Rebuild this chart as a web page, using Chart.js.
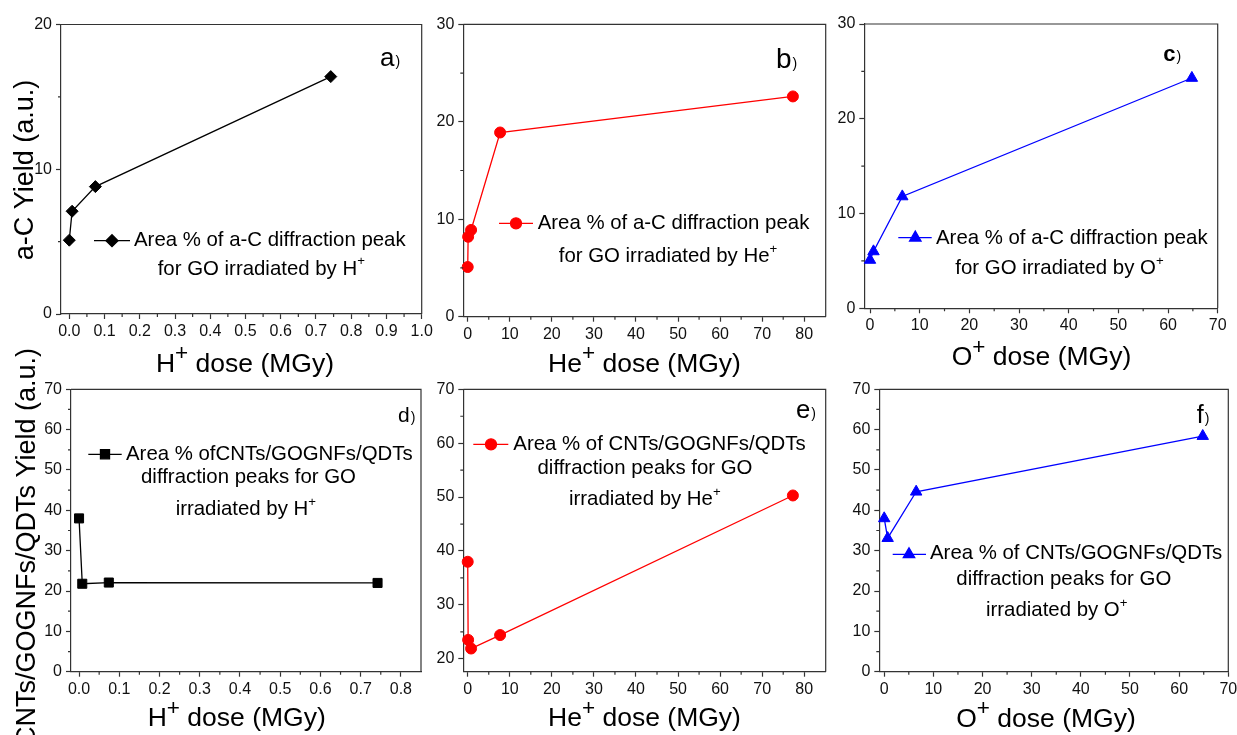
<!DOCTYPE html>
<html>
<head>
<meta charset="utf-8">
<script src="https://cdn.jsdelivr.net/npm/chart.js@4/dist/chart.umd.min.js"></script>
<style>
  html, body { margin: 0; padding: 0; background: #fff; }
  #wrap { position: relative; width: 1237px; height: 735px; overflow: hidden; background: #fff; }
  #wrap canvas { position: absolute; left: 0; top: 0; }
</style>
</head>
<body>
<div id="wrap">
  <canvas id="pa" width="1237" height="735"></canvas>
  <canvas id="pb" width="1237" height="735"></canvas>
  <canvas id="pc" width="1237" height="735"></canvas>
  <canvas id="pd" width="1237" height="735"></canvas>
  <canvas id="pe" width="1237" height="735"></canvas>
  <canvas id="pf" width="1237" height="735"></canvas>
</div>
<script>
// ---- absorbed dose (MGy) for each ion ----
const doseH  = [0, 0.008, 0.074, 0.742];
const doseHe = [0, 0.1, 0.8, 7.7, 77.3];
const doseO  = [0, 0.7, 6.5, 64.8];

// ---- area % of the a-C diffraction peak ----
const acYieldH  = [5.1, 7.1, 8.8, 16.4];
const acYieldHe = [5.1, 8.2, 8.9, 18.9, 22.6];
const acYieldO  = [5.1, 6.0, 11.8, 24.3];

// ---- area % of the CNTs/GOGNFs/QDTs diffraction peaks ----
const cntYieldH  = [38.0, 21.8, 22.1, 22.0];
const cntYieldHe = [38.0, 23.5, 21.9, 24.4, 50.3];
const cntYieldO  = [38.0, 33.1, 44.6, 58.4];

// ---- tick values ----
const ticksDoseH1  = [0, 0.1, 0.2, 0.3, 0.4, 0.5, 0.6, 0.7, 0.8, 0.9, 1.0];
const ticksDoseH08 = [0, 0.1, 0.2, 0.3, 0.4, 0.5, 0.6, 0.7, 0.8];
const ticksDoseHe  = [0, 10, 20, 30, 40, 50, 60, 70, 80];
const ticksDoseO   = [0, 10, 20, 30, 40, 50, 60, 70];
const ticksY20     = [0, 10, 20];
const ticksY30     = [0, 10, 20, 30];
const ticksY70     = [0, 10, 20, 30, 40, 50, 60, 70];
const ticksY20to70 = [20, 30, 40, 50, 60, 70];

const FONT = "'Liberation Sans', Arial, Helvetica, sans-serif";
const AXIS = '#333';
const W = 1237, H = 735;
const YW = 60, XH = 40;   // fixed widths of the y and x scale boxes

// split "H^+ dose" into normal / superscript runs
function richParts(str) {
  const parts = [];
  let buf = '';
  for (let i = 0; i < str.length; i++) {
    if (str[i] === '^') {
      if (buf) parts.push({ t: buf });
      buf = '';
      parts.push({ t: str[i + 1], sup: true });
      i++;
    } else buf += str[i];
  }
  if (buf) parts.push({ t: buf });
  return parts;
}

function drawRich(ctx, str, x, y, size, opt) {
  opt = opt || {};
  const parts = richParts(str);
  const supScale = opt.supScale || 0.7, rise = opt.rise || 0.42;
  const fontOf = s => `${opt.weight || 'normal'} ${s}px ${FONT}`;
  let w = 0;
  parts.forEach(p => {
    ctx.font = fontOf(p.sup ? size * supScale : size);
    p.w = ctx.measureText(p.t).width;
    w += p.w;
  });
  ctx.save();
  ctx.translate(x, y);
  if (opt.rot) ctx.rotate(opt.rot);
  let cx = opt.align === 'center' ? -w / 2 : (opt.align === 'right' ? -w : 0);
  ctx.textBaseline = 'alphabetic';
  ctx.textAlign = 'left';
  ctx.fillStyle = opt.color || '#000';
  parts.forEach(p => {
    ctx.font = fontOf(p.sup ? size * supScale : size);
    ctx.fillText(p.t, cx, p.sup ? -size * rise : 0);
    cx += p.w;
  });
  ctx.restore();
}

// frame, minor ticks, legend, panel letter and axis titles
const decoPlugin = {
  id: 'deco',
  afterDraw(chart, args, o) {
    const ctx = chart.ctx, ca = chart.chartArea;
    const xs = chart.scales.x, ys = chart.scales.y;
    ctx.save();
    ctx.strokeStyle = AXIS;
    ctx.lineWidth = 1.2;
    ctx.beginPath();
    ctx.moveTo(ca.left, ca.top);
    ctx.lineTo(ca.right, ca.top);
    ctx.lineTo(ca.right, ca.bottom);
    ctx.stroke();

    // minor ticks halfway between the labelled ones
    ctx.beginPath();
    const xt = xs.ticks.map(t => t.value), yt = ys.ticks.map(t => t.value);
    for (let i = 0; i < xt.length - 1; i++) {
      const px = xs.getPixelForValue((xt[i] + xt[i + 1]) / 2);
      ctx.moveTo(px, ca.bottom); ctx.lineTo(px, ca.bottom + 3);
    }
    for (let i = 0; i < yt.length - 1; i++) {
      const py = ys.getPixelForValue((yt[i] + yt[i + 1]) / 2);
      ctx.moveTo(ca.left - 3, py); ctx.lineTo(ca.left, py);
    }
    ctx.stroke();

    // legend entry
    const ds = chart.data.datasets[0];
    const lg = o.legend;
    ctx.strokeStyle = ds.borderColor;
    ctx.lineWidth = ds.borderWidth;
    ctx.beginPath();
    ctx.moveTo(lg.x1, lg.y); ctx.lineTo(lg.x2, lg.y);
    ctx.stroke();
    ctx.fillStyle = ds.backgroundColor;
    ctx.strokeStyle = ds.borderColor;
    Chart.helpers.drawPoint(ctx, {
      pointStyle: ds.pointStyle, radius: ds.pointRadius, rotation: 0, borderWidth: ds.pointBorderWidth
    }, lg.mx, lg.y);
    lg.lines.forEach(l => drawRich(ctx, l.t, l.x, l.y, 20.4, { align: l.align, supScale: 0.65, rise: 0.45 }));

    // panel letter
    const lb = o.label;
    ctx.fillStyle = '#000';
    ctx.textBaseline = 'alphabetic';
    ctx.textAlign = 'left';
    ctx.font = `${lb.bold ? 'bold ' : ''}${lb.size}px ${FONT}`;
    ctx.fillText(lb.t, lb.x, lb.y);
    const lw = ctx.measureText(lb.t).width;
    ctx.font = `14px ${FONT}`;
    ctx.fillText(')', lb.x + lw + 1, lb.y);

    // axis titles
    drawRich(ctx, o.xTitle.t, o.xTitle.x, o.xTitle.y, 26.5, { align: 'center', supScale: 0.85, rise: 0.42 });
    if (o.yTitle) {
      drawRich(ctx, o.yTitle.t, o.yTitle.x, o.yTitle.y, 27, { align: 'center', rot: -Math.PI / 2 });
    }
    ctx.restore();
  }
};

function scaleOpts(min, max, tickVals, decimals, horizontal) {
  return {
    type: 'linear',
    min: min,
    max: max,
    afterBuildTicks: s => { s.ticks = tickVals.map(v => ({ value: v })); },
    afterFit: s => {
      if (horizontal) { s.height = XH; s.paddingLeft = 0; s.paddingRight = 0; }
      else { s.width = YW; s.paddingTop = 0; s.paddingBottom = 0; }
    },
    ticks: {
      autoSkip: false,
      maxRotation: 0,
      padding: horizontal ? 3 : 4,
      color: '#111',
      font: { family: FONT, size: 16 },
      callback: v => Number(v).toFixed(decimals)
    },
    grid: { drawOnChartArea: false, drawTicks: true, tickLength: 5, tickColor: AXIS, tickWidth: 1.2 },
    border: { display: true, color: AXIS, width: 1.2 }
  };
}

function makePanel(id, p) {
  new Chart(document.getElementById(id), {
    type: 'scatter',
    data: {
      datasets: [{
        label: p.name,
        data: p.xs.map((x, i) => ({ x: x, y: p.ys[i] })),
        showLine: true,
        borderColor: p.color,
        backgroundColor: p.color,
        borderWidth: 1.3,
        pointStyle: p.pointStyle,
        pointRadius: p.radius,
        pointBorderWidth: 1,
        clip: false
      }]
    },
    options: {
      responsive: false,
      animation: false,
      events: [],
      layout: { padding: { left: p.area.l - YW, top: p.area.t, right: W - p.area.r, bottom: H - p.area.b - XH } },
      plugins: {
        legend: { display: false },
        tooltip: { enabled: false },
        deco: { legend: p.legend, label: p.label, xTitle: p.xTitle, yTitle: p.yTitle }
      },
      scales: {
        x: scaleOpts(p.xRange[0], p.xRange[1], p.xTicks, p.xDec, true),
        y: scaleOpts(p.yRange[0], p.yRange[1], p.yTicks, 0, false)
      }
    },
    plugins: [decoPlugin]
  });
}

// a) a-C yield, H+
makePanel('pa', {
  name: 'Area % of a-C diffraction peak for GO irradiated by H+',
  xs: doseH, ys: acYieldH, color: '#000000', pointStyle: 'rectRot', radius: 6,
  area: { l: 61, t: 24.5, r: 421.7, b: 314 },
  xRange: [-0.0235, 1.0], xTicks: ticksDoseH1, xDec: 1,
  yRange: [0, 20], yTicks: ticksY20,
  legend: { x1: 94, x2: 130, mx: 112, y: 240.7, lines: [
    { t: 'Area % of a-C diffraction peak', x: 134, y: 245.5, align: 'left' },
    { t: 'for GO irradiated by H^+', x: 261.3, y: 274.5, align: 'center' } ] },
  label: { t: 'a', x: 380, y: 65.7, size: 26 },
  xTitle: { t: 'H^+ dose (MGy)', x: 245, y: 371.5 },
  yTitle: { t: 'a-C Yield (a.u.)', x: 33.3, y: 170 }
});

// b) a-C yield, He+
makePanel('pb', {
  name: 'Area % of a-C diffraction peak for GO irradiated by He+',
  xs: doseHe, ys: acYieldHe, color: '#ff0000', pointStyle: 'circle', radius: 5.5,
  area: { l: 463.3, t: 24.3, r: 825.7, b: 316.7 },
  xRange: [-1.05, 85.1], xTicks: ticksDoseHe, xDec: 0,
  yRange: [0, 30], yTicks: ticksY30,
  legend: { x1: 499, x2: 533, mx: 516, y: 223.3, lines: [
    { t: 'Area % of a-C diffraction peak', x: 537.7, y: 229.3, align: 'left' },
    { t: 'for GO irradiated by He^+', x: 668, y: 261.7, align: 'center' } ] },
  label: { t: 'b', x: 776, y: 68.3, size: 28 },
  xTitle: { t: 'He^+ dose (MGy)', x: 644.5, y: 371.5 }
});

// c) a-C yield, O+
makePanel('pc', {
  name: 'Area % of a-C diffraction peak for GO irradiated by O+',
  xs: doseO, ys: acYieldO, color: '#0000ff', pointStyle: 'triangle', radius: 6.6,
  area: { l: 864.3, t: 24, r: 1217.7, b: 308.3 },
  xRange: [-1.15, 70], xTicks: ticksDoseO, xDec: 0,
  yRange: [0, 30], yTicks: ticksY30,
  legend: { x1: 898.3, x2: 931.7, mx: 915.3, y: 237.7, lines: [
    { t: 'Area % of a-C diffraction peak', x: 936, y: 244.3, align: 'left' },
    { t: 'for GO irradiated by O^+', x: 1059.5, y: 274.3, align: 'center' } ] },
  label: { t: 'c', x: 1163.3, y: 61, size: 22, bold: true },
  xTitle: { t: 'O^+ dose (MGy)', x: 1041.5, y: 365 }
});

// d) CNTs/GOGNFs/QDTs yield, H+
makePanel('pd', {
  name: 'Area % of CNTs/GOGNFs/QDTs diffraction peaks for GO irradiated by H+',
  xs: doseH, ys: cntYieldH, color: '#000000', pointStyle: 'rect', radius: 6.4,
  area: { l: 71, t: 389.3, r: 421, b: 671.7 },
  xRange: [-0.02, 0.85], xTicks: ticksDoseH08, xDec: 1,
  yRange: [0, 70], yTicks: ticksY70,
  legend: { x1: 88.3, x2: 121.7, mx: 105, y: 454.3, lines: [
    { t: 'Area % ofCNTs/GOGNFs/QDTs', x: 126, y: 460, align: 'left' },
    { t: 'diffraction peaks for GO', x: 248.5, y: 483.3, align: 'center' },
    { t: 'irradiated by H^+', x: 245.8, y: 515, align: 'center' } ] },
  label: { t: 'd', x: 398, y: 421.7, size: 21 },
  xTitle: { t: 'H^+ dose (MGy)', x: 236.7, y: 726 },
  yTitle: { t: 'CNTs/GOGNFs/QDTs Yield (a.u.)', x: 35, y: 547 }
});

// e) CNTs/GOGNFs/QDTs yield, He+
makePanel('pe', {
  name: 'Area % of CNTs/GOGNFs/QDTs diffraction peaks for GO irradiated by He+',
  xs: doseHe, ys: cntYieldHe, color: '#ff0000', pointStyle: 'circle', radius: 5.5,
  area: { l: 463.3, t: 389.3, r: 825.7, b: 671.7 },
  xRange: [-1.05, 85.1], xTicks: ticksDoseHe, xDec: 0,
  yRange: [17.6, 70], yTicks: ticksY20to70,
  legend: { x1: 473.3, x2: 508.3, mx: 491, y: 444.3, lines: [
    { t: 'Area % of CNTs/GOGNFs/QDTs', x: 513.3, y: 450, align: 'left' },
    { t: 'diffraction peaks for GO', x: 645, y: 474, align: 'center' },
    { t: 'irradiated by He^+', x: 644.8, y: 505, align: 'center' } ] },
  label: { t: 'e', x: 796, y: 417.7, size: 25.7 },
  xTitle: { t: 'He^+ dose (MGy)', x: 644.5, y: 726 }
});

// f) CNTs/GOGNFs/QDTs yield, O+
makePanel('pf', {
  name: 'Area % of CNTs/GOGNFs/QDTs diffraction peaks for GO irradiated by O+',
  xs: doseO, ys: cntYieldO, color: '#0000ff', pointStyle: 'triangle', radius: 6.6,
  area: { l: 879.3, t: 389.3, r: 1228.3, b: 671.7 },
  xRange: [-1, 70], xTicks: ticksDoseO, xDec: 0,
  yRange: [0, 70], yTicks: ticksY70,
  legend: { x1: 892.7, x2: 926, mx: 909, y: 554.3, lines: [
    { t: 'Area % of CNTs/GOGNFs/QDTs', x: 930, y: 559, align: 'left' },
    { t: 'diffraction peaks for GO', x: 1063.8, y: 585, align: 'center' },
    { t: 'irradiated by O^+', x: 1056.7, y: 615.7, align: 'center' } ] },
  label: { t: 'f', x: 1196.7, y: 423.3, size: 25 },
  xTitle: { t: 'O^+ dose (MGy)', x: 1046, y: 726.5 }
});
</script>
</body>
</html>
